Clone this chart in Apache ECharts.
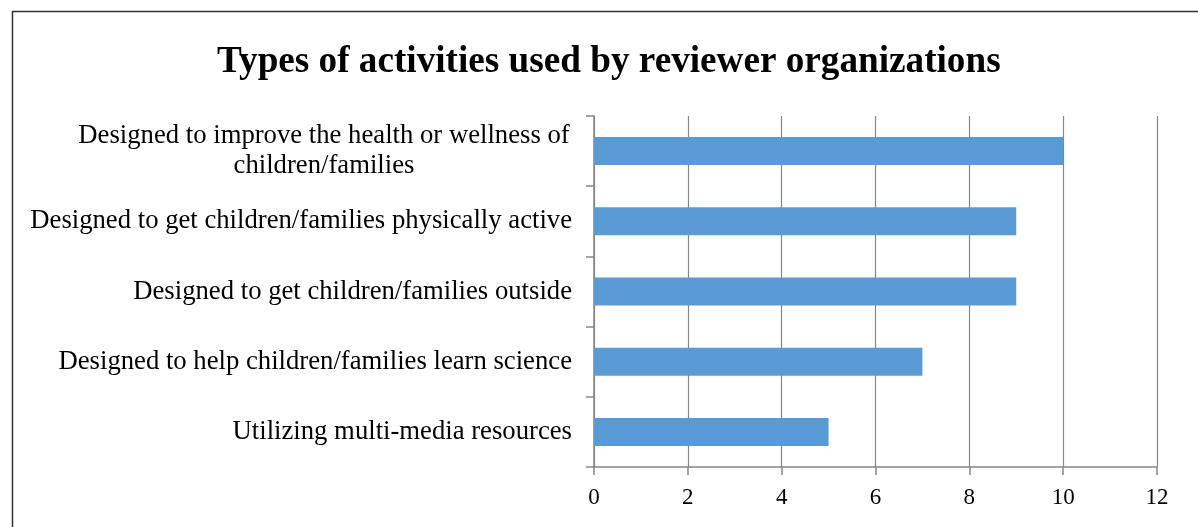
<!DOCTYPE html>
<html><head><meta charset="utf-8">
<script src="https://cdn.jsdelivr.net/npm/echarts@6/dist/echarts.min.js"></script>
<style>html,body{margin:0;padding:0;background:#fff}#c{width:1198px;height:527px}</style>
</head><body><div id="c"></div>
<script>
const categories = [
  'Utilizing multi-media resources',
  'Designed to help children/families learn science',
  'Designed to get children/families outside',
  'Designed to get children/families physically active',
  'Designed to improve the health or wellness of\nchildren/families'
];
const values = [5, 7, 9, 9, 10];
const xTicks = { min: 0, max: 12, interval: 2 };
const titleText = 'Types of activities used by reviewer organizations';

const chart = echarts.init(document.getElementById('c'));
const font = '"Liberation Serif","Times New Roman",serif';
chart.setOption({
  animation: false,
  backgroundColor: '#fff',
  graphic: [{
    type: 'rect', left: 10, top: 9, z: 100, silent: true,
    shape: { width: 1250, height: 600 },
    style: { fill: 'none', stroke: '#333', lineWidth: 1.5 }
  }],
  title: {
    text: titleText, left: 212, top: 39,
    textStyle: { fontFamily: font, fontWeight: 'bold', fontSize: 37.2, color: '#000' }
  },
  grid: { left: 594, right: 41, top: 116, bottom: 60 },
  xAxis: {
    type: 'value', min: xTicks.min, max: xTicks.max, interval: xTicks.interval,
    axisLine: { show: true, lineStyle: { color: '#868686', width: 1.5 } },
    axisTick: { show: true, length: 8, lineStyle: { color: '#868686', width: 1.5 } },
    splitLine: { show: true, lineStyle: { color: '#868686', width: 1.2 } },
    axisLabel: { fontFamily: font, fontSize: 23, color: '#000', margin: 19 }
  },
  yAxis: {
    type: 'category', data: categories,
    axisLine: { show: true, lineStyle: { color: '#868686', width: 1.5 } },
    axisTick: { show: true, length: 8, lineStyle: { color: '#868686', width: 1.5 } },
    axisLabel: {
      margin: 22, color: '#000', fontFamily: font, fontSize: 26.7, lineHeight: 30,
      formatter: function (v) {
        if (v.indexOf('\n') >= 0) {
          return v.split('\n').map(s => '{c|' + s + '}').join('\n');
        }
        return v;
      },
      rich: { c: { width: 496, align: 'center', fontFamily: font, fontSize: 26.7, lineHeight: 30, color: '#000' } }
    }
  },
  series: [{
    type: 'bar', data: values, barWidth: 28,
    itemStyle: { color: '#5B9BD5' }
  }]
});
</script></body></html>
